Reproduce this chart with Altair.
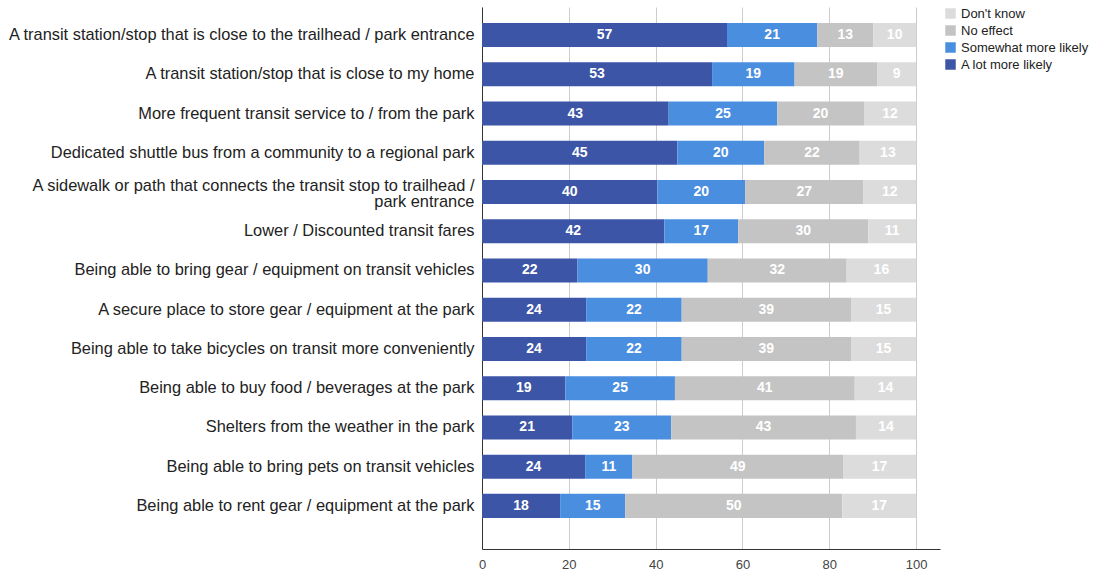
import altair as alt
import pandas as pd

categories = [
    "A transit station/stop that is close to the trailhead / park entrance",
    "A transit station/stop that is close to my home",
    "More frequent transit service to / from the park",
    "Dedicated shuttle bus from a community to a regional park",
    "A sidewalk or path that connects the transit stop to trailhead / park entrance",
    "Lower / Discounted transit fares",
    "Being able to bring gear / equipment on transit vehicles",
    "A secure place to store gear / equipment at the park",
    "Being able to take bicycles on transit more conveniently",
    "Being able to buy food / beverages at the park",
    "Shelters from the weather in the park",
    "Being able to bring pets on transit vehicles",
    "Being able to rent gear / equipment at the park",
]
a_lot = [57, 53, 43, 45, 40, 42, 22, 24, 24, 19, 21, 24, 18]
somewhat = [21, 19, 25, 20, 20, 17, 30, 22, 22, 25, 23, 11, 15]
no_effect = [13, 19, 20, 22, 27, 30, 32, 39, 39, 41, 43, 49, 50]
dont_know = [10, 9, 12, 13, 12, 11, 16, 15, 15, 14, 14, 17, 17]

series = ["A lot more likely", "Somewhat more likely", "No effect", "Don't know"]
colors = ["#3c55a6", "#4a8ee0", "#c4c4c4", "#dcdcdc"]

rows = []
for i, c in enumerate(categories):
    for k, (s, vals) in enumerate(zip(series, [a_lot, somewhat, no_effect, dont_know])):
        rows.append({"cat": c, "series": s, "k": k, "value": vals[i]})
df = pd.DataFrame(rows)

font = "Liberation Sans"
long_label = categories[4]
label_expr = (
    f"datum.label == '{long_label}' ? "
    "['A sidewalk or path that connects the transit stop to trailhead /', 'park entrance'] : datum.label"
)

y_enc = alt.Y(
    "cat:N",
    sort=categories,
    title=None,
    scale=alt.Scale(paddingInner=0.387, paddingOuter=0.6, align=0.34),
    axis=alt.Axis(
        labelFontSize=16.4, labelFont=font, labelColor="#222222", ticks=False,
        labelPadding=8, domainColor="#333333", labelLimit=700, labelExpr=label_expr,
        labelLineHeight=16,
        labelOffset={"condition": {"test": "indexof(datum.value, 'sidewalk') >= 0", "value": -6}, "value": 0},
    ),
)

base = (
    alt.Chart(df)
    .transform_joinaggregate(total="sum(value)", groupby=["cat"])
    .transform_calculate(pct="datum.value / datum.total * 100")
    .transform_stack(
        stack="pct", groupby=["cat"], as_=["x0", "x1"], sort=[alt.SortField("k", order="ascending")]
    )
    .transform_calculate(mid="(datum.x0 + datum.x1) / 2")
)

bars = base.mark_bar().encode(
    x=alt.X(
        "x0:Q",
        title=None,
        scale=alt.Scale(domain=[0, 105.5], nice=False, zero=True),
        axis=alt.Axis(
            values=[0, 20, 40, 60, 80, 100], labelFontSize=13, labelFont=font,
            labelColor="#444444", ticks=False, labelPadding=9, domainColor="#333333",
            gridColor="#cccccc", gridWidth=1, labelFlush=False,
        ),
    ),
    x2="x1:Q",
    y=y_enc,
    color=alt.Color(
        "series:N",
        scale=alt.Scale(domain=series[::-1], range=colors[::-1]),
        legend=alt.Legend(
            title=None, orient="none", legendX=462, legendY=0, symbolType="square",
            symbolSize=110, symbolStrokeWidth=0, labelFontSize=13, labelFont=font,
            labelColor="#222222", rowPadding=3, labelOffset=4, symbolOpacity=1,
        ),
    ),
)

text = base.mark_text(color="white", fontWeight="bold", fontSize=14, font=font).encode(
    x=alt.X("mid:Q"),
    y=alt.Y("cat:N", sort=categories),
    text="value:Q",
)

chart = (bars + text).properties(
    width=458,
    height=542,
    autosize=alt.AutoSizeParams(type="none"),
    padding={"left": 482, "top": 7, "right": 154, "bottom": 24},
).configure_view(stroke=None)

chart.save("out.html", embed_options={"renderer": "svg", "actions": False})
